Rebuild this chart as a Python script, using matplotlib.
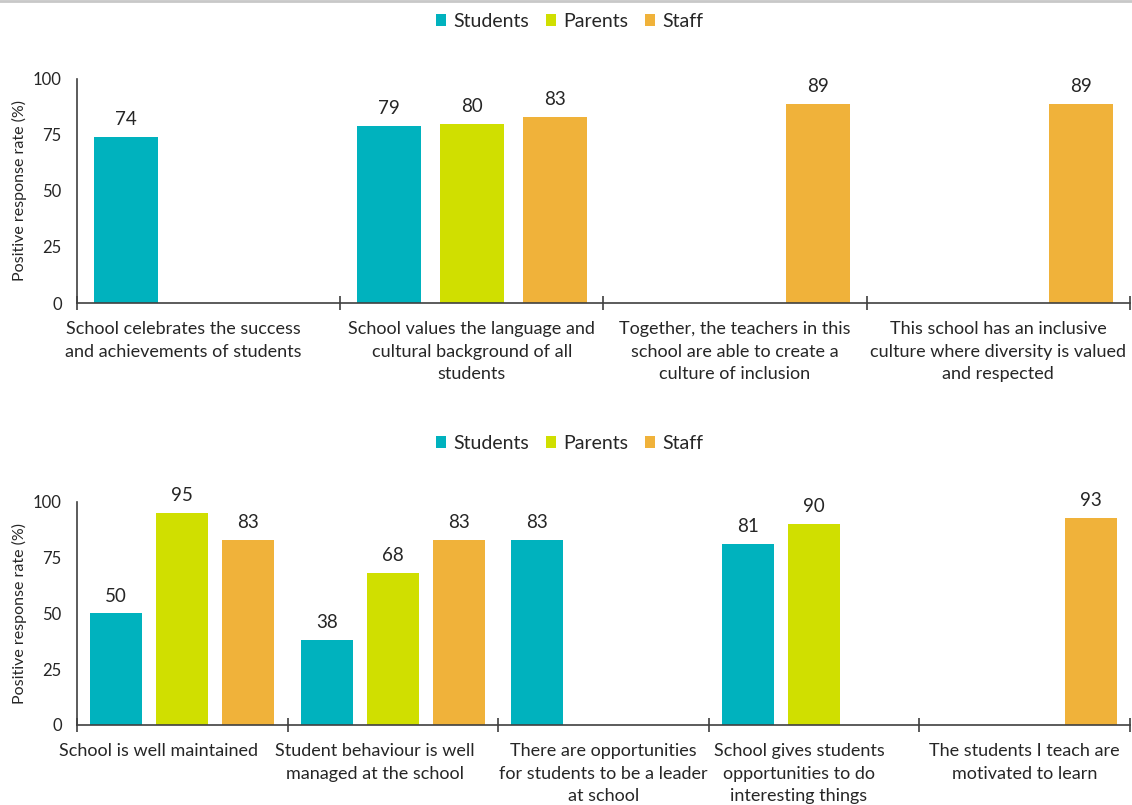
import numpy as np
import matplotlib
matplotlib.use("Agg")
import matplotlib.pyplot as plt
from matplotlib.patches import Patch
from matplotlib.lines import Line2D
from matplotlib.transforms import ScaledTranslation

plt.rcParams['font.family'] = ['Lato', 'DejaVu Sans']

series = ["Students", "Parents", "Staff"]
colors = ["#00B2BE", "#D0DF00", "#F0B23A"]

top_categories = [
    "School celebrates the success\nand achievements of students",
    "School values the language and\ncultural background of all\nstudents",
    "Together, the teachers in this\nschool are able to create a\nculture of inclusion",
    "This school has an inclusive\nculture where diversity is valued\nand respected",
]
top_students = [74, 79, np.nan, np.nan]
top_parents = [np.nan, 80, np.nan, np.nan]
top_staff = [np.nan, 83, 89, 89]

bottom_categories = [
    "School is well maintained",
    "Student behaviour is well\nmanaged at the school",
    "There are opportunities\nfor students to be a leader\nat school",
    "School gives students\nopportunities to do\ninteresting things",
    "The students I teach are\nmotivated to learn",
]
bottom_students = [50, 38, 83, 81, np.nan]
bottom_parents = [95, 68, np.nan, 90, np.nan]
bottom_staff = [83, 83, np.nan, np.nan, 93]

# horizontal nudges of the category labels (pixels), as in the original layout
top_label_nudge = [-25, 0, 0, 0]
bottom_label_nudge = [-24, -18, 0, -15, 0]

yticks = [0, 25, 50, 75, 100]
text_color = "#262626"

fig = plt.figure(figsize=(11.32, 8.05), dpi=100)
fig.add_artist(Line2D([0, 1], [0.999, 0.999], color="#c8c8c8", lw=2, transform=fig.transFigure))


def draw(ax, cats, data, width, offset, nudges):
    n = len(cats)
    x = np.arange(n)
    for i, (vals, col) in enumerate(zip(data, colors)):
        vals = np.array(vals, dtype=float)
        pos = x + (i - 1) * offset
        mask = ~np.isnan(vals)
        bars = ax.bar(pos[mask], vals[mask], width=width, color=col, zorder=2)
        for b, v in zip(bars, vals[mask]):
            ax.text(b.get_x() + b.get_width() / 2, v + 4, f"{v:.0f}", ha="center",
                    va="bottom", fontsize=13.5, color=text_color)
    ax.set_xlim(-0.5, n - 0.5)
    ax.set_ylim(0, 100)
    ax.set_yticks(yticks)
    ax.tick_params(axis="y", length=0, labelsize=12, labelcolor=text_color, pad=11)
    ax.set_xticks(x)
    ax.set_xticklabels(cats, fontsize=13, color=text_color, linespacing=1.5)
    ax.tick_params(axis="x", which="major", length=0, pad=13)
    for lab, dx in zip(ax.get_xticklabels(), nudges):
        lab.set_transform(lab.get_transform() + ScaledTranslation(dx / 100, 0, fig.dpi_scale_trans))
    ax.set_xticks(np.arange(n + 1) - 0.5, minor=True)
    ax.tick_params(axis="x", which="minor", length=10, direction="inout", width=1.2, color="#404040")
    for s in ["top", "right"]:
        ax.spines[s].set_visible(False)
    for s in ["left", "bottom"]:
        ax.spines[s].set_color("#404040")
        ax.spines[s].set_linewidth(1.2)
    ax.set_ylabel("Positive response rate (%)", fontsize=11.5, color=text_color, labelpad=4)


handles = [Patch(facecolor=c, edgecolor="none") for c in colors]
leg_kw = dict(loc="center", ncol=3, frameon=False, fontsize=14, handlelength=0.55,
              handleheight=0.55, handletextpad=0.35, columnspacing=0.85, labelcolor=text_color)

ax1 = fig.add_axes([0.068, 0.6236, 0.930, 0.2783])
draw(ax1, top_categories, [top_students, top_parents, top_staff], 0.243, 0.315, top_label_nudge)
fig.legend(handles, series, bbox_to_anchor=(0.503, 0.973), **leg_kw)

ax2 = fig.add_axes([0.068, 0.0994, 0.930, 0.277])
draw(ax2, bottom_categories, [bottom_students, bottom_parents, bottom_staff], 0.247, 0.314,
     bottom_label_nudge)
fig.legend(handles, series, bbox_to_anchor=(0.503, 0.449), **leg_kw)

fig.savefig("out.png", dpi=100)
